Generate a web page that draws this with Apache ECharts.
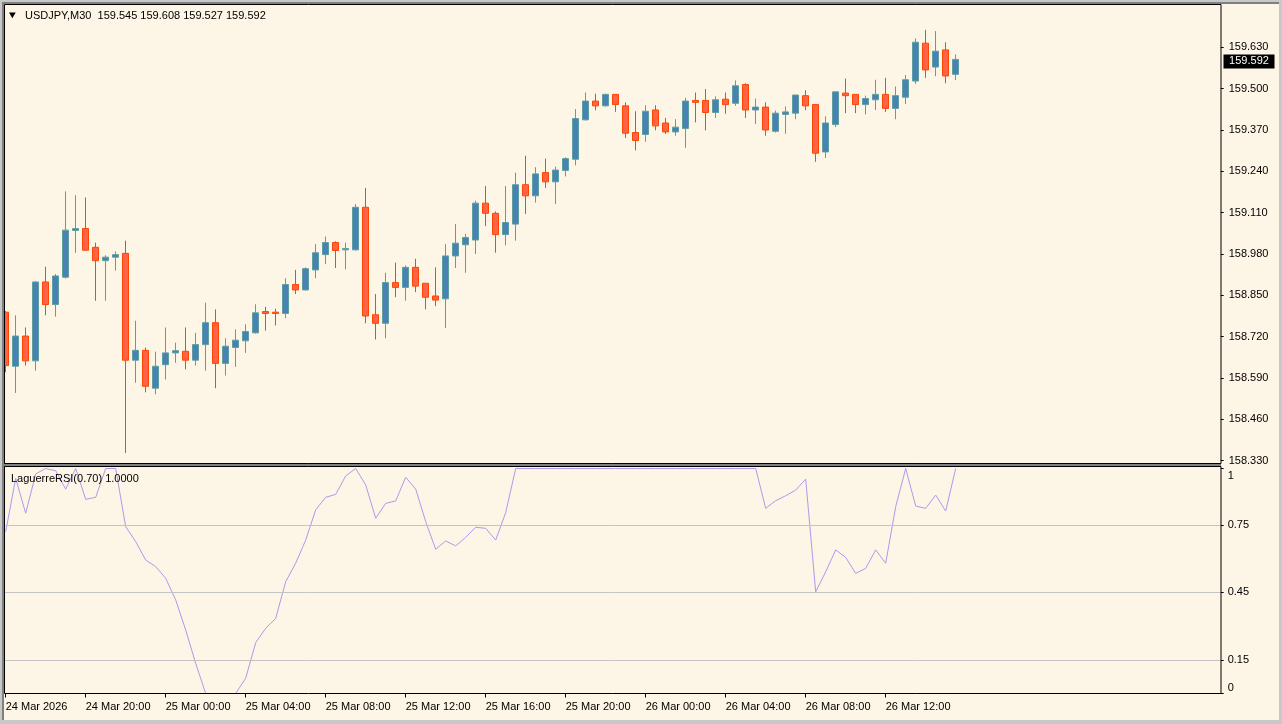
<!DOCTYPE html>
<html><head><meta charset="utf-8">
<script src="https://cdn.jsdelivr.net/npm/echarts@6/dist/echarts.min.js"></script>
<style>html,body{margin:0;padding:0;background:#FDF5E6;overflow:hidden}#c{width:1282px;height:724px}</style>
</head><body><div id="c"></div>
<script>
const symbolName = 'USDJPY,M30';
const indicatorName = 'LaguerreRSI(0.70)';
const timeTickLabels = ['24 Mar 2026','24 Mar 20:00','25 Mar 00:00','25 Mar 04:00','25 Mar 08:00','25 Mar 12:00','25 Mar 16:00','25 Mar 20:00','26 Mar 00:00','26 Mar 04:00','26 Mar 08:00','26 Mar 12:00'];
const barsPerTick = 8;
const totalSlots = 122;
const priceTicks = [158.330,158.460,158.590,158.720,158.850,158.980,159.110,159.240,159.370,159.500,159.630];
const rsiTicks = [0,0.15,0.45,0.75,1];
const rsiLevels = [0.15,0.45,0.75];

const openP = [158.797,158.627,158.722,158.644,158.892,158.821,158.907,159.054,159.060,159.001,
158.959,158.970,158.982,158.646,158.677,158.558,158.632,158.669,158.674,158.646,
158.695,158.764,158.636,158.686,158.707,158.732,158.799,158.797,158.793,158.884,
158.867,158.930,158.978,159.016,158.993,158.993,159.127,158.789,158.762,158.890,
158.875,158.938,158.888,158.848,158.839,158.974,159.009,159.024,159.140,159.108,
159.041,159.074,159.198,159.163,159.236,159.207,159.243,159.278,159.402,159.461,
159.446,159.482,159.446,159.362,159.356,159.433,159.392,159.364,159.375,159.463,
159.463,159.425,159.467,159.454,159.513,159.433,159.442,159.366,159.419,159.423,
159.478,159.450,159.301,159.387,159.486,159.482,159.450,159.465,159.482,159.438,
159.473,159.524,159.643,159.568,159.622,159.545];
const closeP = [158.629,158.722,158.644,158.892,158.821,158.911,159.055,159.060,158.992,158.959,
158.970,158.978,158.646,158.677,158.564,158.627,158.669,158.676,158.646,158.695,
158.764,158.636,158.690,158.709,158.736,158.795,158.793,158.793,158.884,158.867,
158.934,158.984,159.016,158.991,158.997,159.127,158.785,158.762,158.890,158.875,
158.938,158.879,158.844,158.835,158.974,159.014,159.032,159.140,159.108,159.041,
159.079,159.198,159.163,159.232,159.207,159.244,159.280,159.406,159.461,159.446,
159.482,159.450,159.360,159.337,159.429,159.383,159.364,159.379,159.461,159.457,
159.425,159.465,159.450,159.509,159.433,159.442,159.370,159.423,159.427,159.480,
159.446,159.297,159.392,159.490,159.478,159.450,159.469,159.482,159.438,159.478,
159.528,159.646,159.559,159.618,159.540,159.592];
const highP = [158.800,158.787,158.749,158.894,158.940,158.917,159.177,159.165,159.158,159.016,
158.976,158.988,159.022,158.770,158.686,158.673,158.749,158.701,158.749,158.732,
158.827,158.806,158.715,158.743,158.759,158.822,158.814,158.808,158.904,158.930,
158.938,159.011,159.035,159.020,159.016,159.137,159.188,158.854,158.921,158.953,
158.944,158.965,158.888,158.938,159.011,159.074,159.043,159.148,159.194,159.114,
159.194,159.236,159.289,159.253,159.280,159.255,159.284,159.436,159.488,159.484,
159.484,159.482,159.457,159.429,159.448,159.448,159.408,159.404,159.471,159.488,
159.499,159.476,159.488,159.526,159.517,159.469,159.457,159.431,159.444,159.480,
159.495,159.450,159.413,159.490,159.532,159.482,159.478,159.528,159.534,159.507,
159.543,159.658,159.685,159.681,159.646,159.608];
const lowP = [158.608,158.543,158.629,158.613,158.787,158.783,158.903,158.984,158.991,158.833,
158.833,158.928,158.354,158.575,158.545,158.539,158.585,158.638,158.617,158.629,
158.613,158.558,158.598,158.625,158.669,158.730,158.739,158.755,158.778,158.854,
158.865,158.904,158.948,158.936,158.932,158.991,158.762,158.711,158.715,158.844,
158.833,158.860,158.806,158.816,158.747,158.936,158.921,158.980,159.068,158.984,
159.007,159.022,159.106,159.142,159.188,159.137,159.224,159.259,159.400,159.432,
159.444,159.427,159.345,159.306,159.333,159.369,159.358,159.352,159.314,159.394,
159.369,159.408,159.421,159.446,159.408,159.389,159.352,159.362,159.358,159.404,
159.432,159.270,159.282,159.379,159.423,159.423,159.419,159.433,159.427,159.404,
159.452,159.515,159.534,159.539,159.517,159.527];
const rsiValues = [0.719,0.956,0.801,0.976,1,0.990,0.908,1,0.863,0.872,
1,1,0.741,0.675,0.593,0.564,0.512,0.416,0.282,0.134,
0,0,0,0,0.068,0.226,0.290,0.334,0.497,0.579,
0.682,0.816,0.872,0.885,0.967,1,0.927,0.779,0.845,0.856,
0.961,0.909,0.764,0.641,0.678,0.656,0.694,0.739,0.734,0.682,
0.804,1,1,1,1,1,1,1,1,1,
1,1,1,1,1,1,1,1,1,1,
1,1,1,1,1,1,0.823,0.857,0.879,0.904,
0.953,0.452,0.541,0.638,0.605,0.534,0.556,0.638,0.579,0.830,
1,0.833,0.823,0.882,0.811,1];

const FONT = 'Liberation Sans';
const slots = Array.from({length: totalSlots}, (_, i) => String(i));
const tickFn = (i) => i % barsPerTick === 0 && (i / barsPerTick) < timeTickLabels.length;

const chart = echarts.init(document.getElementById('c'));
chart.setOption({
  animation: false,
  backgroundColor: '#FDF5E6',
  grid: [
    {left: 0.7, width: 1220, top: 6, height: 454.67},
    {left: 0.7, width: 1220, top: 468.5, height: 225}
  ],
  xAxis: [
    {type: 'category', gridIndex: 0, data: slots, boundaryGap: true, show: false},
    {type: 'category', gridIndex: 1, data: slots, boundaryGap: true,
      axisLine: {show: false},
      axisTick: {show: true, interval: tickFn, alignWithLabel: true, length: 4, lineStyle: {color: '#000'}},
      axisLabel: {interval: tickFn, formatter: (v, i) => timeTickLabels[Math.floor(Number(v) / barsPerTick)] || '',
        align: 'left', margin: 8, color: '#000', fontSize: 11, fontFamily: FONT},
      splitLine: {show: false}}
  ],
  yAxis: [
    {type: 'value', gridIndex: 0, position: 'right', min: 158.33, max: 159.76,
      axisLine: {show: false},
      axisTick: {show: true, length: 3, customValues: priceTicks, lineStyle: {color: '#000'}},
      axisLabel: {customValues: priceTicks, formatter: v => v.toFixed(3), margin: 8, color: '#000', fontSize: 11, fontFamily: FONT},
      splitLine: {show: false}},
    {type: 'value', gridIndex: 1, position: 'right', min: 0, max: 1,
      axisLine: {show: false},
      axisTick: {show: true, length: 3, customValues: rsiTicks, lineStyle: {color: '#000'}},
      axisLabel: {customValues: rsiTicks, margin: 7, color: '#000', fontSize: 11, fontFamily: FONT,
        formatter: v => v === 1 ? '{t|1}' : (v === 0 ? '{b|0}' : v.toFixed(2)),
        rich: {
          t: {padding: [15, 0, 0, 0], color: '#000', fontSize: 11, fontFamily: FONT},
          b: {padding: [0, 0, 11, 0], color: '#000', fontSize: 11, fontFamily: FONT}
        }},
      splitLine: {show: false}}
  ],
  series: [
    {type: 'candlestick', xAxisIndex: 0, yAxisIndex: 0, barWidth: 6,
      data: openP.map((o, i) => [o, closeP[i], lowP[i], highP[i]]),
      itemStyle: {color: '#4682B4', color0: '#FF6347', borderColor: '#5F9EA0', borderColor0: '#FF4500', borderWidth: 1}},
    {type: 'line', xAxisIndex: 1, yAxisIndex: 1, data: rsiValues, symbol: 'none', showSymbol: false,
      lineStyle: {color: '#a99cec', width: 1},
      markLine: {silent: true, symbol: ['none', 'none'], label: {show: false},
        lineStyle: {color: '#c4c4c4', type: 'solid', width: 1},
        data: rsiLevels.map(v => ({yAxis: v}))}}
  ]
});

const n = closeP.length - 1;
const py = chart.convertToPixel({yAxisIndex: 0}, closeP[n]);
const Z = 100;
const header = symbolName + '  ' + openP[n].toFixed(3) + ' ' + highP[n].toFixed(3) + ' ' + lowP[n].toFixed(3) + ' ' + closeP[n].toFixed(3);
chart.setOption({
  graphic: [
    {type: 'rect', z: Z, shape: {x: 0, y: 0, width: 2, height: 724}, style: {fill: '#c8c8c8'}},
    {type: 'rect', z: Z, shape: {x: 2, y: 2, width: 2, height: 720}, style: {fill: '#808080'}},
    {type: 'rect', z: Z, shape: {x: 0, y: 0, width: 1282, height: 2}, style: {fill: '#c8c8c8'}},
    {type: 'rect', z: Z, shape: {x: 2, y: 2, width: 1278, height: 2}, style: {fill: '#808080'}},
    {type: 'rect', z: Z, shape: {x: 1279, y: 0, width: 3, height: 724}, style: {fill: '#c8c8c8'}},
    {type: 'rect', z: Z, shape: {x: 0, y: 720, width: 1282, height: 4}, style: {fill: '#c8c8c8'}},
    {type: 'rect', z: Z, shape: {x: 4, y: 463, width: 1217, height: 4}, style: {fill: '#808080'}},
    {type: 'rect', z: Z, shape: {x: 4.5, y: 4.5, width: 1216.5, height: 459}, style: {fill: null, stroke: '#000', lineWidth: 1}},
    {type: 'rect', z: Z, shape: {x: 4.5, y: 466.5, width: 1216.5, height: 227}, style: {fill: null, stroke: '#000', lineWidth: 1}},
    {type: 'polygon', z: Z, shape: {points: [[9, 12.5], [15.7, 12.5], [12.35, 18.3]]}, style: {fill: '#000'}},
    {type: 'text', z: Z, x: 25, y: 16, style: {text: header, fill: '#000', font: '11px "' + FONT + '"', verticalAlign: 'middle', align: 'left'}},
    {type: 'text', z: Z, x: 11, y: 478.5, style: {text: indicatorName + ' ' + rsiValues[n].toFixed(4), fill: '#000', font: '11px "' + FONT + '"', verticalAlign: 'middle', align: 'left'}},
    {type: 'rect', z: Z, shape: {x: 1223.5, y: py - 5, width: 51, height: 14}, style: {fill: '#000'}},
    {type: 'text', z: Z + 1, x: 1249, y: py + 2, style: {text: closeP[n].toFixed(3), fill: '#fff', font: '11px "' + FONT + '"', verticalAlign: 'middle', align: 'center'}}
  ]
});
</script></body></html>
